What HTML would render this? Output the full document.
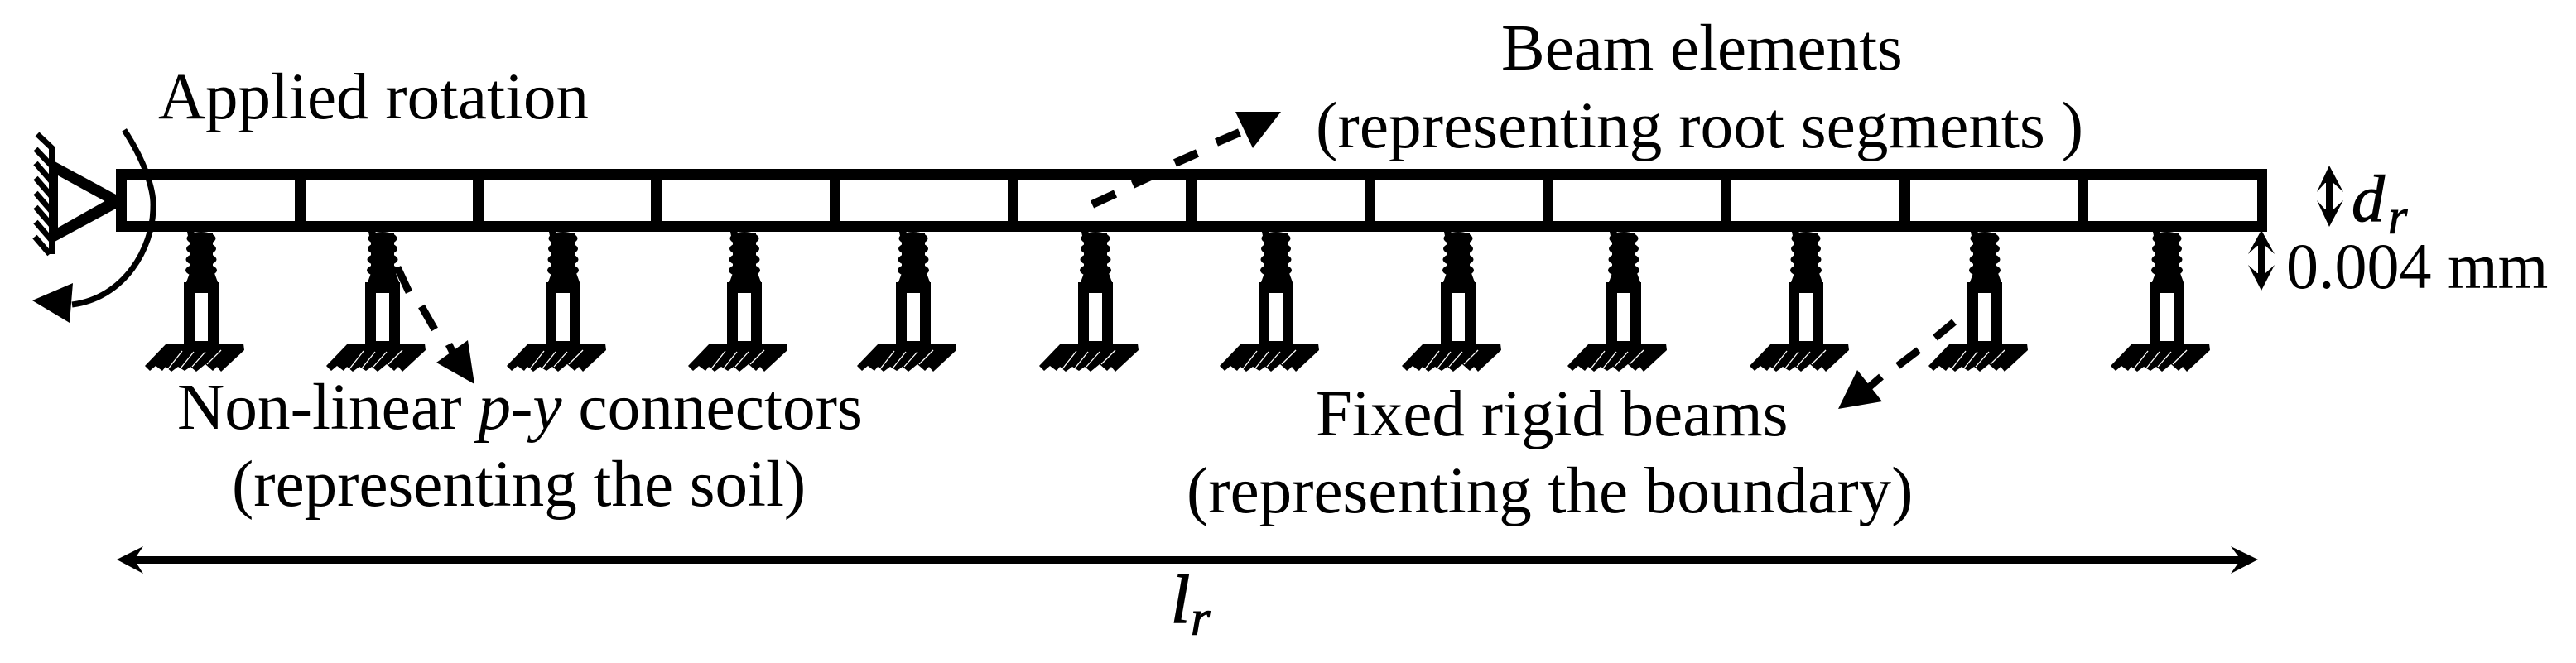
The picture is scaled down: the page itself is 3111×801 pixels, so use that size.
<!DOCTYPE html>
<html><head><meta charset="utf-8"><style>
html,body{margin:0;padding:0;background:#fff;width:3111px;height:801px;overflow:hidden}
svg{display:block}
text{font-family:"Liberation Serif",serif;font-size:79px;fill:#000}
</style></head><body>
<svg width="3111" height="801" viewBox="0 0 3111 801" xmlns="http://www.w3.org/2000/svg">
<defs>
<g id="s">
<rect x="-14" y="282" width="28" height="60"/>
<ellipse cx="0" cy="288" rx="17.500" ry="8"/>
<ellipse cx="0" cy="300.500" rx="18" ry="8"/>
<ellipse cx="0" cy="313.500" rx="18.500" ry="8"/>
<ellipse cx="0" cy="326.500" rx="19" ry="8"/>
<path d="M-18,341 L-14,330 L16,330 L20,341 Z"/>
<path d="M-17,280 L-8,280 L-12,286 L-16,285 Z"/>
<path d="M-21,341H21V415H-21Z M-8,354V412H8V354Z" fill-rule="evenodd"/>
<path d="M-42,415 L51,415 L52,423 L24,449 L19,443 L14,448 L5,440 L-6,449 L-13,443 L-20,448 L-28,443 L-36,449 L-43,443 L-47,448 L-55,442 L-62,448 L-68,442 Z"/>
<path d="M-41,447L-23,424M-25,445L-9,425M-11,443L5,425M7,440L24,423" stroke="#fff" stroke-width="1.300" fill="none"/>
</g>
</defs>

<!-- beam -->
<path fill-rule="evenodd" d="M140,204H2738V280H140Z M153,217V267H2726V217Z"/>
<g fill="#000">
<rect x="356" y="210" width="13" height="64"/>
<rect x="571" y="210" width="13" height="64"/>
<rect x="786" y="210" width="13" height="64"/>
<rect x="1002" y="210" width="13" height="64"/>
<rect x="1217" y="210" width="13" height="64"/>
<rect x="1432" y="210" width="14" height="64"/>
<rect x="1648" y="210" width="13" height="64"/>
<rect x="1863" y="210" width="13" height="64"/>
<rect x="2078" y="210" width="13" height="64"/>
<rect x="2294" y="210" width="13" height="64"/>
<rect x="2509" y="210" width="13" height="64"/>
</g>

<!-- springs and fixed beams -->
<use href="#s" x="243"/><use href="#s" x="462"/><use href="#s" x="680"/><use href="#s" x="899"/>
<use href="#s" x="1103"/><use href="#s" x="1323"/><use href="#s" x="1541"/><use href="#s" x="1761"/>
<use href="#s" x="1961"/><use href="#s" x="2181"/><use href="#s" x="2397"/><use href="#s" x="2617"/>

<!-- left support -->
<rect x="59" y="178" width="7" height="129"/>
<path fill-rule="evenodd" d="M66,195L140,235V252L66,292Z M70,212V275L126.500,243Z"/>
<path d="M45,162L64,180M43,180L62,200M43,197L62,219M43,215L62,237M43,233L62,255M43,250L62,272M43,268L62,290M42,286L60,307" stroke="#000" stroke-width="7" fill="none"/>

<!-- applied rotation arc -->
<path d="M150,157C175,195 186,230 185,250C185,300 150,360 87,368" stroke="#000" stroke-width="7" fill="none"/>
<polygon points="39,363 88,342 84,390"/>

<!-- dashed arrows -->
<g stroke="#000" stroke-width="10" fill="none">
<path d="M1319,247L1347,234M1368,223L1392,212M1419,197L1446,185M1469,172L1497,160"/>
<path d="M480,323L494,353M509,370L525,398M542,416L548,428" stroke-width="9"/>
<path d="M2360,389L2337,408M2317,423L2292,442M2272,455L2257,468" stroke-width="9"/>
</g>
<polygon points="1492,135 1547,135 1513,179"/>
<polygon points="565,411 527,438 573,464"/>
<polygon points="2243,447 2273,485 2220,494"/>

<!-- dimension arrows -->
<rect x="160" y="672" width="2550" height="9"/>
<polygon points="141,676 173,660 162,676 173,693"/>
<polygon points="2727,676 2694,660 2706,676 2694,693"/>
<rect x="2809" y="215" width="9" height="45"/>
<polygon points="2813,200 2830,232 2818,221 2808,221 2798,232"/>
<polygon points="2813,274 2830,242 2818,253 2808,253 2798,242"/>
<rect x="2727" y="292" width="9" height="45"/>
<polygon points="2731,278 2747,307 2736,297 2726,297 2715,307"/>
<polygon points="2731,351 2747,320 2736,330 2726,330 2715,320"/>

<!-- labels -->
<text x="191" y="143">Applied rotation</text>
<text x="1813" y="84">Beam elements</text>
<text x="1589" y="178" style="font-size:79.300px">(representing root segments )</text>
<text x="214" y="518" style="font-size:79.300px">Non-linear <tspan font-style="italic">p</tspan>-<tspan font-style="italic">y</tspan> connectors</text>
<text x="280" y="611">(representing the soil)</text>
<text x="1589" y="526">Fixed rigid beams</text>
<text x="1433" y="619">(representing the boundary)</text>
<text x="2761" y="348" style="font-size:78px">0.004 mm</text>
<text x="2840" y="267" font-style="italic" style="font-size:80px" stroke="#000" stroke-width="1">d</text>
<text x="2884" y="282" font-style="italic" style="font-size:60px" stroke="#000" stroke-width="1">r</text>
<text x="1414" y="752" font-style="italic" style="font-size:83px" stroke="#000" stroke-width="1.500">l</text>
<text x="1438" y="767" font-style="italic" style="font-size:60px" stroke="#000" stroke-width="1">r</text>
</svg>
</body></html>
